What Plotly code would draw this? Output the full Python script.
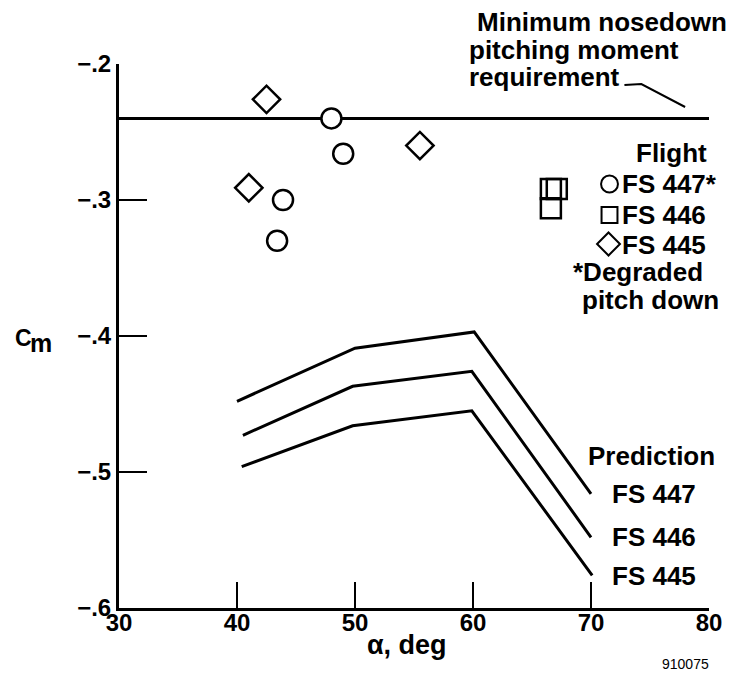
import plotly.graph_objects as go

# ---------------- data ----------------
fs447_alpha = [48.0, 49.0, 43.9, 43.4]
fs447_cm = [-0.240, -0.266, -0.300, -0.330]

fs446_alpha = [66.6, 67.1, 66.6]
fs446_cm = [-0.292, -0.292, -0.306]

fs445_alpha = [42.5, 41.0, 55.5]
fs445_cm = [-0.226, -0.291, -0.260]

pred447_alpha = [40.0, 50.0, 60.1, 70.0]
pred447_cm = [-0.448, -0.409, -0.397, -0.516]
pred446_alpha = [40.5, 49.8, 59.9, 70.0]
pred446_cm = [-0.473, -0.437, -0.426, -0.548]
pred445_alpha = [40.4, 49.8, 59.9, 70.1]
pred445_cm = [-0.496, -0.466, -0.455, -0.576]

requirement_alpha = [30, 80]
requirement_cm = [-0.24, -0.24]

x_ticks = [30, 40, 50, 60, 70, 80]
x_ticktext = ["30", "40", "50", "60", "70", "80"]
y_ticks = [-0.6, -0.5, -0.4, -0.3, -0.2]
y_ticktext = ["\u2212.6", "\u2212.5", "\u2212.4", "\u2212.3", "\u2212.2"]

# ---------------- layout geometry ----------------
W, H = 734, 677
L, R, T, B = 119, 712, 64, 608
FONT = "Liberation Sans"
FS = 26
TFS = 24


def px(x):
    return (x - L) / (R - L)


def py(y):
    return (B - y) / (B - T)


fig = go.Figure()

line_style = dict(color="black", width=3)
for a, c in [(pred447_alpha, pred447_cm), (pred446_alpha, pred446_cm), (pred445_alpha, pred445_cm)]:
    fig.add_trace(go.Scatter(x=a, y=c, mode="lines", line=line_style, showlegend=False, hoverinfo="skip"))

fig.add_trace(go.Scatter(x=requirement_alpha, y=requirement_cm, mode="lines",
                         line=dict(color="black", width=3), showlegend=False))

mk_line = dict(color="black", width=2.5)
fig.add_trace(go.Scatter(x=fs447_alpha, y=fs447_cm, mode="markers",
                         marker=dict(symbol="circle", size=20, color="white", line=mk_line),
                         showlegend=False))
fig.add_trace(go.Scatter(x=fs446_alpha, y=fs446_cm, mode="markers",
                         marker=dict(symbol="square", size=20, color="rgba(0,0,0,0)", line=mk_line),
                         showlegend=False))
fig.add_trace(go.Scatter(x=fs445_alpha, y=fs445_cm, mode="markers",
                         marker=dict(symbol="diamond", size=21, color="white", line=mk_line),
                         showlegend=False))

annotations = []


def txt(text, x, y, xanchor="left", size=FS, weight="bold", align="left"):
    annotations.append(dict(text=text, x=px(x), y=py(y), xref="paper", yref="paper",
                            xanchor=xanchor, yanchor="middle", showarrow=False, align=align,
                            font=dict(family=FONT, size=size, color="black", weight=weight)))


txt("Minimum nosedown", 732, 22, xanchor="right")
txt("pitching moment", 469, 50)
txt("requirement", 469, 77)

txt("Flight", 674, 153, xanchor="center")
txt("FS 447*", 623, 184)
txt("FS 446", 623, 215)
txt("FS 445", 623, 245)
txt("*Degraded", 573, 272)
txt("pitch down", 582, 300)

txt("Prediction", 588, 456)
txt("FS 447", 612, 494)
txt("FS 446", 612, 537)
txt("FS 445", 612, 576)

txt("\u03b1, deg", 408, 645, xanchor="center", size=27)
txt("910075", 688, 664, xanchor="center", size=14, weight="normal")
txt("C", 12, 338, size=23)
txt("m", 28, 343, size=25)

shapes = []
# leader line from label to requirement line
shapes.append(dict(type="path", xref="paper", yref="paper",
                   path=f"M {px(627)} {py(85)} L {px(644)} {py(84)} L {px(688)} {py(107)}",
                   line=dict(color="black", width=2)))


# legend keys
def key_box(cx, cy, hw, kind):
    if kind == "circle":
        shapes.append(dict(type="circle", xref="paper", yref="paper",
                           x0=px(cx - hw), x1=px(cx + hw), y0=py(cy + hw), y1=py(cy - hw),
                           line=dict(color="black", width=2)))
    elif kind == "square":
        shapes.append(dict(type="rect", xref="paper", yref="paper",
                           x0=px(cx - hw), x1=px(cx + hw), y0=py(cy + hw), y1=py(cy - hw),
                           line=dict(color="black", width=2)))
    else:
        shapes.append(dict(type="path", xref="paper", yref="paper",
                           path=(f"M {px(cx - hw)} {py(cy)} L {px(cx)} {py(cy - hw)} "
                                 f"L {px(cx + hw)} {py(cy)} L {px(cx)} {py(cy + hw)} Z"),
                           line=dict(color="black", width=2)))


key_box(612, 184, 8.5, "circle")
key_box(612, 215, 8, "square")
key_box(611, 244, 11.5, "diamond")

fig.update_layout(
    width=W, height=H,
    margin=dict(l=L, r=W - R, t=T, b=H - B, pad=0),
    plot_bgcolor="white", paper_bgcolor="white",
    showlegend=False,
    annotations=annotations,
    shapes=shapes,
    font=dict(family=FONT, size=FS, color="black", weight="bold"),
)

fig.update_xaxes(range=[30, 80], tickvals=x_ticks, ticktext=x_ticktext,
                 showline=True, linecolor="black", linewidth=3, mirror=False,
                 ticks="inside", ticklen=26, tickwidth=2, tickcolor="black",
                 showgrid=False, zeroline=False, ticklabelstandoff=-9,
                 tickfont=dict(family=FONT, size=TFS, color="black", weight="bold"))
fig.update_yaxes(range=[-0.6, -0.2], tickvals=y_ticks, ticktext=y_ticktext,
                 showline=True, linecolor="black", linewidth=3, mirror=False,
                 ticks="inside", ticklen=28, tickwidth=2, tickcolor="black",
                 showgrid=False, zeroline=False, ticklabelstandoff=0,
                 tickfont=dict(family=FONT, size=TFS, color="black", weight="bold"))

fig.write_html("out.html")
